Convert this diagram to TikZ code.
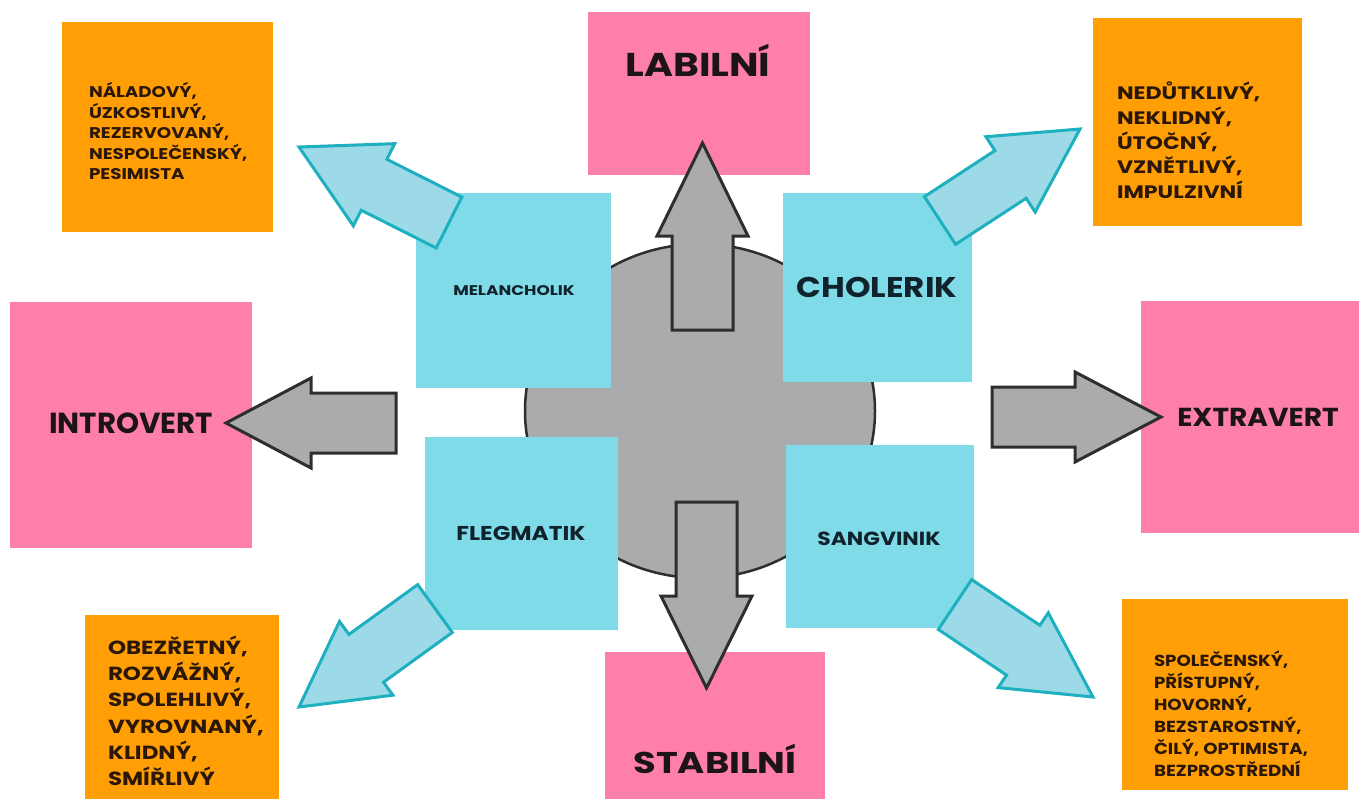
\documentclass[tikz,border=0pt]{standalone}
\usepackage{graphicx}
\usepackage{fontspec}
\setmainfont{Poppins}
\usetikzlibrary{calc,shapes.geometric}
\definecolor{pinkc}{HTML}{FE7FA8}
\definecolor{orangec}{HTML}{FF9F05}
\definecolor{cyanc}{HTML}{80DBE9}
\definecolor{arrowfill}{HTML}{9CDAE7}
\definecolor{arrowline}{HTML}{1FB0C0}
\definecolor{grayc}{HTML}{ABABAE}
\definecolor{darkline}{HTML}{2E2E2E}
\definecolor{txtc}{HTML}{1C1418}
\definecolor{txto}{HTML}{2A1708}
\definecolor{txtb}{HTML}{10222C}
\newcommand\blockarrow[6]{%
  \coordinate (#3-base) at ($(#3)!#6pt!(#2)$);
  \draw[#1] ($(#2)!#4pt!90:(#3)$) -- ($(#3-base)!#4pt!90:(#3)$) -- ($(#3-base)!#5pt!90:(#3)$) -- (#3)
    -- ($(#3-base)!#5pt!-90:(#3)$) -- ($(#3-base)!#4pt!-90:(#3)$) -- ($(#2)!#4pt!-90:(#3)$) -- cycle;
}
\newcommand\wide[2]{\scalebox{#1}[1]{#2}}
\newcommand\olines[2]{\scalebox{#1}[1]{\begin{tabular}{@{}l@{}}#2\end{tabular}}}
\tikzset{
  boxbase/.style={rectangle, inner sep=0pt, outer sep=0pt, anchor=north west, draw=none},
  pinkbox/.style={boxbase, fill=pinkc},
  orangebox/.style={boxbase, fill=orangec},
  cyanbox/.style={boxbase, fill=cyanc},
  lbl/.style={inner sep=0pt, outer sep=0pt, anchor=base},
  olist/.style={inner sep=0pt, outer sep=0pt, anchor=north west, text=txto},
  grayarrow/.style={fill=grayc, draw=darkline, line width=3pt, line join=miter},
  cyanarrow/.style={fill=arrowfill, draw=arrowline, line width=3pt, line join=miter},
}
\begin{document}
\begin{tikzpicture}[x=1pt, y=-1pt]
\useasboundingbox (0,0) rectangle (1359,798);
\fill[white] (0,0) rectangle (1359,798);
% pink boxes
\node[pinkbox, minimum width=222pt, minimum height=163pt] (labil) at (588,12) {};
\node[pinkbox, minimum width=242pt, minimum height=246pt] (intro) at (10,302) {};
\node[pinkbox, minimum width=230pt, minimum height=232pt] (extra) at (1141,301) {};
\node[pinkbox, minimum width=220pt, minimum height=160pt] (stab) at (605,652) {};
% orange boxes
\node[orangebox, minimum width=211pt, minimum height=210pt] (oTL) at (62,22) {};
\node[orangebox, minimum width=209pt, minimum height=208pt] (oTR) at (1093,18) {};
\node[orangebox, minimum width=194pt, minimum height=200pt] (oBL) at (85,615) {};
\node[orangebox, minimum width=226pt, minimum height=191pt] (oBR) at (1122,599) {};
% central disc
\node[ellipse, draw=darkline, fill=grayc, line width=2.5pt, minimum width=350pt, minimum height=334pt, inner sep=0pt] (disc) at (700,411) {};
% cyan boxes
\node[cyanbox, minimum width=195pt, minimum height=195pt] (melan) at (416,193) {};
\node[cyanbox, minimum width=189pt, minimum height=189pt] (chol) at (783,193) {};
\node[cyanbox, minimum width=193pt, minimum height=193pt] (fleg) at (425,437) {};
\node[cyanbox, minimum width=188pt, minimum height=183pt] (sang) at (786,445) {};
% gray arrow end points
\coordinate (gUs) at (702.5,330); \coordinate (gUt) at (702.5,143);
\coordinate (gDs) at (706.5,502); \coordinate (gDt) at (706.5,688);
\coordinate (gLs) at (396,423);   \coordinate (gLt) at (226,423);
\coordinate (gRs) at (992,417);   \coordinate (gRt) at (1161,417);
\blockarrow{grayarrow}{gUs}{gUt}{30.5}{45.5}{93}
\blockarrow{grayarrow}{gDs}{gDt}{30.5}{45.5}{92}
\blockarrow{grayarrow}{gLs}{gLt}{30}{45}{85}
\blockarrow{grayarrow}{gRs}{gRt}{30}{45}{86}
% cyan arrows
\coordinate (cTLs) at (449,222.5); \coordinate (cTLt) at (299,147);
\coordinate (cTRs) at (940,220.5); \coordinate (cTRt) at (1080,129);
\coordinate (cBLs) at (435,608.5); \coordinate (cBLt) at (299,707);
\coordinate (cBRs) at (955,604.5); \coordinate (cBRt) at (1093,697);
\blockarrow{cyanarrow}{cTLs}{cTLt}{28.5}{46}{84}
\blockarrow{cyanarrow}{cTRs}{cTRt}{28.5}{45}{83}
\blockarrow{cyanarrow}{cBLs}{cBLt}{29.5}{45.5}{83}
\blockarrow{cyanarrow}{cBRs}{cBRt}{30}{45}{84}
% labels
\node[lbl, text=txtc, font=\fontsize{33}{36}\selectfont\bfseries] (labilT) at (698,76.5) {\wide{1.19}{LABILNÍ}};
\node[lbl, text=txtc, font=\fontsize{30}{32}\selectfont\bfseries] (stabT) at (715,773) {\wide{1.23}{STABILNÍ}};
\node[lbl, text=txtc, font=\fontsize{29}{32}\selectfont\bfseries] (introT) at (131,433) {\wide{1.01}{INTROVERT}};
\node[lbl, text=txtc, font=\fontsize{26}{30}\selectfont\bfseries] (extraT) at (1258,426) {\wide{1.08}{EXTRAVERT}};
\node[lbl, text=txtb, font=\fontsize{28.5}{32}\selectfont\bfseries] (cholT) at (877,297) {\wide{1.14}{CHOLERIK}};
\node[lbl, text=txtb, font=\fontsize{14}{16}\selectfont\bfseries] (melanT) at (514,295) {\wide{1.21}{MELANCHOLIK}};
\node[lbl, text=txtb, font=\fontsize{20}{24}\selectfont\bfseries] (flegT) at (521,540) {\wide{1.16}{FLEGMATIK}};
\node[lbl, text=txtb, font=\fontsize{19}{22}\selectfont\bfseries] (sangT) at (879,545) {\wide{1.15}{SANGVINIK}};
\node[olist, font=\fontsize{15.5}{19.25}\selectfont\bfseries] (oTLT) at (89,82) {\olines{1.18}{NÁLADOVÝ,\\ÚZKOSTLIVÝ,\\REZERVOVANÝ,\\NESPOLEČENSKÝ,\\PESIMISTA}};
\node[olist, font=\fontsize{18}{23.5}\selectfont\bfseries] (oTRT) at (1117,82) {\olines{1.23}{NEDŮTKLIVÝ,\\NEKLIDNÝ,\\ÚTOČNÝ,\\VZNĚTLIVÝ,\\IMPULZIVNÍ}};
\node[olist, font=\fontsize{19}{25.5}\selectfont\bfseries] (oBLT) at (108,636) {\olines{1.21}{OBEZŘETNÝ,\\ROZVÁŽNÝ,\\SPOLEHLIVÝ,\\VYROVNANÝ,\\KLIDNÝ,\\SMÍŘLIVÝ}};
\node[olist, font=\fontsize{16}{21}\selectfont\bfseries] (oBRT) at (1154,651) {\olines{1.14}{SPOLEČENSKÝ,\\PŘÍSTUPNÝ,\\HOVORNÝ,\\BEZSTAROSTNÝ,\\ČILÝ, OPTIMISTA,\\BEZPROSTŘEDNÍ}};
\end{tikzpicture}
\end{document}
